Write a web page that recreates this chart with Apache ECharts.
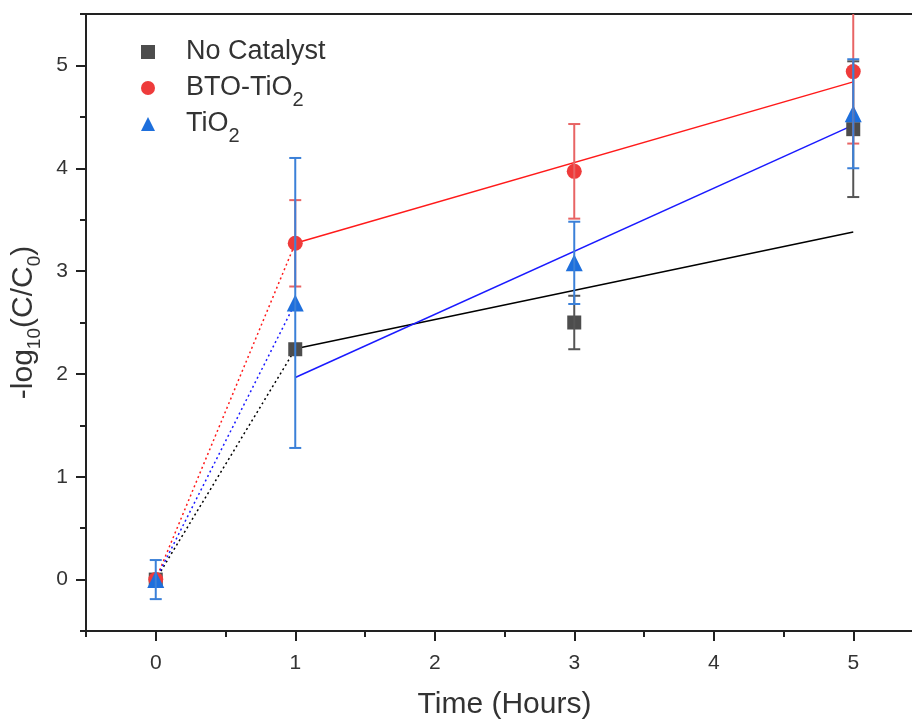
<!DOCTYPE html>
<html>
<head>
<meta charset="utf-8">
<script src="https://cdn.jsdelivr.net/npm/echarts@6/dist/echarts.min.js"></script>
<style>
  html, body { margin: 0; padding: 0; background: #fff; }
  #chart { width: 912px; height: 719px; }
</style>
</head>
<body>
<div id="chart"></div>
<script>
// Sampling times (hours)
const times = [0, 1, 3, 5];

// -log10(C/C0) means and standard deviations
const noCatalyst    = [0, 2.24, 2.50, 4.38];
const noCatalystErr = [0, 0, 0.26, 0.66];
const btoTiO2       = [0, 3.27, 3.97, 4.94];
const btoTiO2Err    = [0, 0.42, 0.46, 0.70];
const tiO2          = [0, 2.69, 3.08, 4.53];
const tiO2Err       = [0.19, 1.41, 0.40, 0.53];

// Linear fits over the 1–5 h window
const fitTimes      = [1, 5];
const noCatalystFit = [2.245, 3.38];
const btoTiO2Fit    = [3.27, 4.84];
const tiO2Fit       = [1.965, 4.42];

// Axis ticks
const majorTicks = [0, 1, 2, 3, 4, 5];
const minorTicks = [-0.5, 0.5, 1.5, 2.5, 3.5, 4.5, 5.5];

const seriesNames = ['No Catalyst', 'BTO-TiO2', 'TiO2'];

const FONT = '"Liberation Sans", Arial, sans-serif';
const AXIS_COLOR = '#222';
const TEXT_COLOR = '#333';

function pairs(xs, ys) { return xs.map((x, i) => [x, ys[i]]); }
function errRows(vals, errs) {
  return times.map((t, i) => [t, vals[i] - errs[i], vals[i] + errs[i]]);
}

// Vertical error bar with caps, drawn through the axes' coordinate system
function errorBar(color) {
  return function (params, api) {
    const x = api.value(0), lo = api.value(1), hi = api.value(2);
    if (hi - lo <= 0) return null;
    const a = api.coord([x, lo]);
    const b = api.coord([x, hi]);
    const w = 6;
    const style = { stroke: color, lineWidth: 2 };
    return {
      type: 'group',
      children: [
        { type: 'line', shape: { x1: a[0], y1: a[1], x2: b[0], y2: b[1] }, style },
        { type: 'line', shape: { x1: a[0] - w, y1: a[1], x2: a[0] + w, y2: a[1] }, style },
        { type: 'line', shape: { x1: b[0] - w, y1: b[1], x2: b[0] + w, y2: b[1] }, style }
      ]
    };
  };
}

function groupSeries(name, vals, errs, fit, marker, lineColor, errColor, symbol, size) {
  return [
    { // dotted lead-in from t=0 to the first hour
      type: 'line', name: name + ' lead', data: pairs(times.slice(0, 2), vals.slice(0, 2)),
      showSymbol: false, silent: true, z: 2,
      lineStyle: { color: lineColor, width: 1.5, type: [2, 3] }
    },
    { // linear fit
      type: 'line', name: name + ' fit', data: pairs(fitTimes, fit),
      showSymbol: false, silent: true, z: 2,
      lineStyle: { color: lineColor, width: 1.5 }
    },
    {
      type: 'scatter', name: name, data: pairs(times, vals),
      symbol: symbol, symbolSize: size, z: 3,
      itemStyle: { color: marker, opacity: 1 }
    },
    {
      type: 'custom', name: name + ' err', data: errRows(vals, errs),
      renderItem: errorBar(errColor), clip: true, silent: true, z: 4,
      encode: { x: 0, y: [1, 2] }
    }
  ];
}

// Legend labels: chemical formulas get a subscript; every row carries a
// subscript-sized token so the rows share one height.
function legendLabel(n) {
  return /TiO2$/.test(n) ? n.replace(/TiO2$/, 'TiO{sub|2}') : n + '{sub| }';
}

const chart = echarts.init(document.getElementById('chart'));
chart.setOption({
  animation: false,
  backgroundColor: '#fff',
  textStyle: { fontFamily: FONT },
  grid: { left: 86, right: -11, top: 14, bottom: 88, containLabel: false, outerBoundsMode: 'none' },
  legend: {
    orient: 'vertical',
    left: 136, top: 33,
    itemWidth: 14, itemHeight: 14, itemGap: 0,
    data: [
      { name: seriesNames[0], icon: 'rect', itemStyle: { color: '#4d4d4d' } },
      { name: seriesNames[1], icon: 'circle', itemStyle: { color: '#ee3b3b' } },
      { name: seriesNames[2], icon: 'triangle', itemStyle: { color: '#1e6fdc' } }
    ],
    formatter: legendLabel,
    textStyle: {
      fontSize: 27, lineHeight: 28, color: TEXT_COLOR, fontFamily: FONT, padding: [0, 0, 0, 26],
      rich: { sub: { fontSize: 20, fontFamily: FONT, color: TEXT_COLOR, padding: [24, 0, 0, 0] } }
    }
  },
  xAxis: [
    {
      type: 'value', min: -0.5, max: 5.5, position: 'bottom',
      axisLine: { show: true, onZero: false, lineStyle: { color: AXIS_COLOR, width: 2 } },
      axisTick: { show: true, length: 10, customValues: majorTicks, lineStyle: { color: AXIS_COLOR, width: 2 } },
      axisLabel: { customValues: majorTicks, fontSize: 21, margin: 22, color: TEXT_COLOR, fontFamily: FONT },
      splitLine: { show: false },
      name: 'Time (Hours)', nameLocation: 'middle', nameGap: 59,
      nameTextStyle: { fontSize: 30, color: TEXT_COLOR, fontFamily: FONT }
    },
    {
      type: 'value', min: -0.5, max: 5.5, position: 'bottom',
      axisLine: { show: false, onZero: false },
      axisTick: { show: true, length: 6, customValues: minorTicks, lineStyle: { color: AXIS_COLOR, width: 2 } },
      axisLabel: { show: false }, splitLine: { show: false }
    },
    {
      type: 'value', min: -0.5, max: 5.5, position: 'top',
      axisLine: { show: true, onZero: false, lineStyle: { color: AXIS_COLOR, width: 2 } },
      axisTick: { show: false }, axisLabel: { show: false }, splitLine: { show: false }
    }
  ],
  yAxis: [
    {
      type: 'value', min: -0.5, max: 5.5, position: 'left',
      axisLine: { show: true, onZero: false, lineStyle: { color: AXIS_COLOR, width: 2 } },
      axisTick: { show: true, length: 10, customValues: majorTicks, lineStyle: { color: AXIS_COLOR, width: 2 } },
      axisLabel: { customValues: majorTicks, fontSize: 21, margin: 18, color: TEXT_COLOR, fontFamily: FONT },
      splitLine: { show: false },
      name: '-log{sub|10}(C/C{sub|0})', nameLocation: 'middle', nameGap: 46, nameRotate: 90,
      nameTextStyle: {
        fontSize: 30, lineHeight: 32, color: TEXT_COLOR, fontFamily: FONT,
        rich: { sub: { fontSize: 19, fontFamily: FONT, color: TEXT_COLOR, padding: [21, 0, 0, 0] } }
      }
    },
    {
      type: 'value', min: -0.5, max: 5.5, position: 'left',
      axisLine: { show: false, onZero: false },
      axisTick: { show: true, length: 6, customValues: minorTicks, lineStyle: { color: AXIS_COLOR, width: 2 } },
      axisLabel: { show: false }, splitLine: { show: false }
    }
  ],
  series: [].concat(
    groupSeries(seriesNames[0], noCatalyst, noCatalystErr, noCatalystFit, '#4d4d4d', '#000000', '#555555', 'rect', 14),
    groupSeries(seriesNames[1], btoTiO2, btoTiO2Err, btoTiO2Fit, '#ee3b3b', '#ff1a1a', '#e86464', 'circle', 15),
    groupSeries(seriesNames[2], tiO2, tiO2Err, tiO2Fit, '#1e6fdc', '#1a1aff', '#3b80d8', 'triangle', 17)
  )
});
</script>
</body>
</html>
